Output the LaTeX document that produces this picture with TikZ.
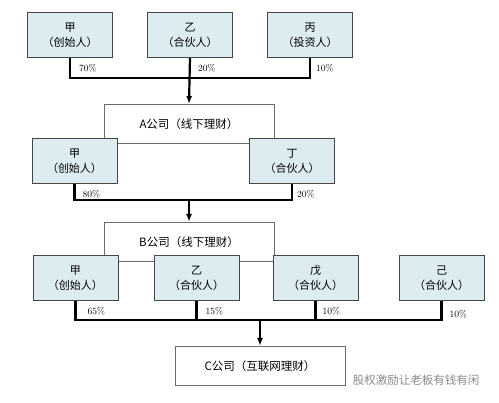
\documentclass[tikz,border=0pt]{standalone}
\usepackage{fontspec}
\usepackage{xcolor}
\usetikzlibrary{arrows.meta, positioning}
\newfontfamily\cjk{Noto Sans CJK SC}
\definecolor{boxfill}{RGB}{220,236,241}
\definecolor{boxline}{RGB}{70,70,70}

\begin{document}
\begin{tikzpicture}[x=1pt, y=-1pt,
      person/.style={rectangle, draw=boxline, fill=boxfill, line width=1pt,
        align=center, minimum width=85pt, minimum height=45pt, inner sep=1pt,
        font=\cjk\fontsize{11}{15}\selectfont},
      firm/.style={rectangle, draw=boxline!80, fill=white, line width=1pt,
        align=center, minimum width=170pt, minimum height=39pt,
        font=\cjk\fontsize{11.5}{14}\selectfont},
      bus/.style={line width=2.2pt, draw=black},
      link/.style={-{Latex[length=8pt, width=6pt]}, line width=2.2pt, draw=black},
      pct/.style={font=\fontsize{9.5}{11}\selectfont, inner sep=0pt}
    ]
      \useasboundingbox[fill=white] (0,0) rectangle (499,403);
      % first level: owners of A
      \node[person] (t1) at (70,35) {甲\\（创始人）};
      \node[person] (t2) at (190,35) {乙\\（合伙人）};
      \node[person] (t3) at (310,35) {丙\\（投资人）};
      \node[firm] (ca) at (189,124) {A公司（线下理财）};
      \coordinate (j1) at (189,78);
      \draw[bus] (t1.south) |- (j1) -| (t3.south);
      \draw[link] (t2.south) -- (ca.north);
      \node[pct, below right=6pt and 9pt of t1.south] {70\%};
      \node[pct, below right=6pt and 8pt of t2.south] {20\%};
      \node[pct, below right=6pt and 6pt of t3.south] {10\%};
      % second level: owners of B
      \node[person] (m1) at (74.5,161) {甲\\（创始人）};
      \node[person] (m2) at (292,161) {丁\\（合伙人）};
      \node[firm] (cb) at (189,242) {B公司（线下理财）};
      \coordinate (j2) at (189,200);
      \draw[bus] (m1.south) |- (j2) -| (m2.south);
      \draw[link] (j2) -- (cb.north);
      \node[pct, below right=6pt and 8pt of m1.south] {80\%};
      \node[pct, below right=6pt and 5pt of m2.south] {20\%};
      % third level: owners of C
      \node[person] (b1) at (75.5,278) {甲\\（创始人）};
      \node[person] (b2) at (196.5,278) {乙\\（合伙人）};
      \node[person] (b3) at (315.5,278) {戊\\（合伙人）};
      \node[person] (b4) at (441.5,278) {己\\（合伙人）};
      \node[firm] (cc) at (260,366) {C公司（互联网理财）};
      \coordinate (j3) at (260,320);
      \draw[bus] (b1.south) |- (j3) -| (b4.south);
      \draw[bus] (b2.south) -- (b2.south |- j3);
      \draw[bus] (b3.south) -- (b3.south |- j3);
      \draw[link] (j3) -- (cc.north);
      \node[pct, below right=6pt and 12pt of b1.south] {65\%};
      \node[pct, below right=6pt and 9pt of b2.south] {15\%};
      \node[pct, below right=6pt and 7pt of b3.south] {10\%};
      \node[pct, below right=9pt and 8pt of b4.south] {10\%};
      \node[font=\cjk\fontsize{11.5}{14}\selectfont, text=black!45] (wm) at (416,380) {股权激励让老板有钱有闲};
    \end{tikzpicture}
\end{document}
